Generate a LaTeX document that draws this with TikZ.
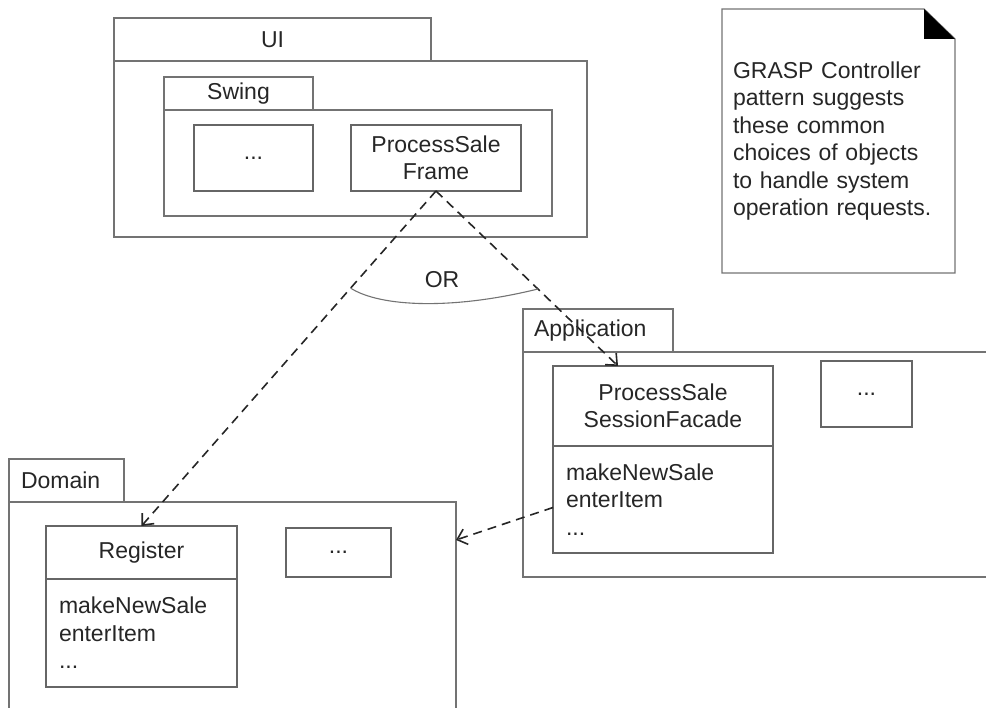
\documentclass[tikz,border=0pt]{standalone}
\usepackage{fontspec}
\setmainfont{Liberation Sans}
\usetikzlibrary{arrows.meta, positioning}

\begin{document}
\begin{tikzpicture}[
    x=1pt, y=-1pt,
    every node/.style={font=\fontsize{23}{27.5}\selectfont, text=black!85, outer sep=0pt},
    pkgtab/.style={rectangle, draw=black!55, line width=1.3pt, minimum height=43pt, anchor=north west},
    pkgbody/.style={rectangle, draw=black!55, line width=1.3pt, anchor=north west},
    plainbox/.style={rectangle, draw=black!60, line width=1.3pt, anchor=north west},
    opsbox/.style={rectangle, draw=black!60, line width=1.3pt, align=left, inner xsep=13pt},
    notetext/.style={rectangle, align=left, inner xsep=11pt},
    dep/.style={draw=black!85, line width=1.6pt, dash pattern=on 9pt off 6pt, -{Straight Barb[length=9pt, width=16pt]}},
    orarc/.style={draw=black!55, line width=1.1pt}
]
\useasboundingbox (0,0) rectangle (986,708);
\clip (0,0) rectangle (986,708);

% UI package
\node (uitab) [pkgtab, minimum width=317pt] at (114,18) {UI};
\node (uibody) [pkgbody, minimum width=473pt, minimum height=176pt] at (114,61) {};
\node (swingtab) [pkgtab, minimum width=149pt, minimum height=33pt] at (164,77) {Swing};
\node (swingbody) [pkgbody, minimum width=388pt, minimum height=106pt] at (164,110) {};
\node (uidots) [plainbox, minimum width=119pt, minimum height=66pt] at (194,125) {...};
\node (frame) [plainbox, minimum width=170pt, minimum height=66pt, align=center] at (351,125) {ProcessSale\\Frame};

% Note
\node (note) [notetext, text width=211pt, minimum height=264pt] at (838.5,141)
    {GRASP Controller\\pattern suggests\\these common\\choices of objects\\to handle system\\operation requests.};
\draw [draw=black!55, line width=1.3pt] (note.north west) -- ([xshift=-31pt]note.north east)
    -- ([yshift=-30pt]note.north east) -- (note.south east) -- (note.south west) -- cycle;
\fill [black] ([xshift=-31pt]note.north east) -- ([yshift=-30pt]note.north east)
    -- ([xshift=-31pt, yshift=-30pt]note.north east) -- cycle;

% Application package
\node (apptab) [pkgtab, text width=128pt, align=left, inner xsep=11pt] at (523,309) {Application};
\node (appbody) [pkgbody, minimum width=520pt, minimum height=225pt] at (523,352) {};
\node (facname) [plainbox, minimum width=220pt, minimum height=80pt, align=center] at (553,366) {ProcessSale\\SessionFacade};
\node (facops) [opsbox, text width=194pt, minimum height=107pt, below=0pt of facname] {makeNewSale\\enterItem\\...};
\node (appdots) [plainbox, minimum width=91pt, minimum height=66pt] at (821,361) {...};

% Domain package
\node (domtab) [pkgtab, text width=91pt, align=left, inner xsep=12pt] at (9,459) {Domain};
\node (dombody) [pkgbody, minimum width=447pt, minimum height=280pt] at (9,502) {};
\node (regname) [plainbox, minimum width=191pt, minimum height=53pt] at (46,526) {Register};
\node (regops) [opsbox, text width=165pt, minimum height=108pt, below=0pt of regname] {makeNewSale\\enterItem\\...};
\node (domdots) [plainbox, minimum width=105pt, minimum height=49pt] at (286,528) {...};

% Dependencies
\draw [dep] (frame.south) -- coordinate[pos=0.29] (orleft) (regname.north);
\draw [dep] (frame.south) -- coordinate[pos=0.56] (orright) ([xshift=65pt]facname.north west);
\draw [dep] ([yshift=-8pt]facops.west) -- ([yshift=-38pt]dombody.north east);

% OR
\draw [orarc] (orleft) .. controls +(30,19) and +(-85,21) .. (orright);
\node (ortext) at (442,280) {OR};

\end{tikzpicture}
\end{document}
